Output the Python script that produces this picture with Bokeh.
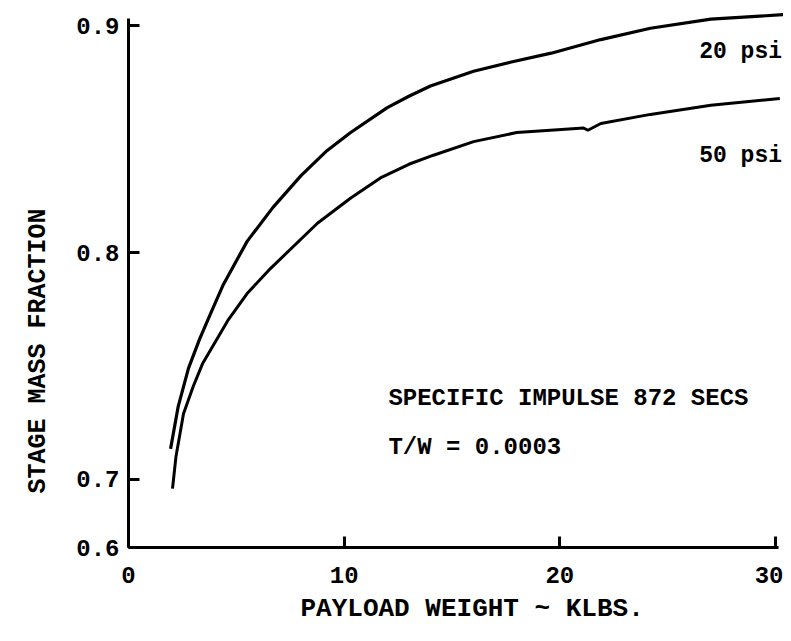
from bokeh.plotting import figure
from bokeh.models import FixedTicker, Title
from bokeh.core.properties import value
from bokeh.embed import file_html
from bokeh.resources import INLINE

# ---- data ----
x_20psi = [1.95, 2.3, 2.78, 3.3, 3.8, 4.4, 5.5, 6.7, 8.0, 9.2, 10.3, 12.0, 13.0, 14.0,
           16.0, 17.7, 19.6, 21.9, 24.2, 27.0, 30.4]
y_20psi = [0.7135, 0.732, 0.749, 0.762, 0.773, 0.786, 0.805, 0.820, 0.834, 0.845,
           0.853, 0.864, 0.869, 0.8735, 0.880, 0.884, 0.888, 0.894, 0.899, 0.903, 0.905]

x_50psi = [2.04, 2.2, 2.55, 3.0, 3.43, 4.6, 5.5, 6.58, 8.76, 10.29, 11.68, 13.0, 14.14,
           16.0, 18.0, 19.56, 21.1, 21.3, 21.9, 24.2, 27.0, 30.2]
y_50psi = [0.696, 0.71, 0.729, 0.741, 0.751, 0.770, 0.782, 0.793, 0.813, 0.824,
           0.833, 0.839, 0.843, 0.849, 0.853, 0.854, 0.855, 0.854, 0.857, 0.861, 0.865, 0.868]

x_ticks = [0, 10, 20, 30]
x_tick_labels = ["0", "10", "20", "30"]
y_tick_labels = ["0.6", "0.7", "0.8", "0.9"]
y_tick_pos = [0.67, 0.7, 0.8, 0.9]   # axis is broken below 0.7: "0.6" sits at the axis foot

series_labels = ["20 psi", "50 psi"]
note_lines = ["SPECIFIC IMPULSE 872 SECS", "T/W = 0.0003"]
x_title = "PAYLOAD WEIGHT ~ KLBS."
y_title = "STAGE MASS FRACTION"

FONT = "Liberation Mono"

p = figure(width=783, height=633, output_backend="svg", toolbar_location=None,
           x_range=(0, 30.37), y_range=(0.67, 0.9077),
           min_border_left=128, min_border_right=0, min_border_top=8,
           min_border_bottom=86)
p.background_fill_color = "white"
p.border_fill_color = "white"
p.outline_line_color = None
p.xgrid.visible = False
p.ygrid.visible = False

for ax in (p.xaxis[0], p.yaxis[0]):
    ax.axis_line_width = 3
    ax.axis_line_color = "black"
    ax.major_tick_line_width = 3
    ax.major_tick_line_color = "black"
    ax.major_tick_in = 11
    ax.major_tick_out = 0
    ax.minor_tick_line_color = None
    ax.major_label_text_font = FONT
    ax.major_label_text_font_style = "bold"
    ax.major_label_text_font_size = "24px"
    ax.major_label_text_color = "black"

p.xaxis[0].ticker = FixedTicker(ticks=x_ticks)
p.xaxis[0].major_label_overrides = {t: s for t, s in zip(x_ticks, x_tick_labels)}
p.xaxis[0].bounds = (0, 30.15)
p.xaxis[0].major_label_standoff = 19

p.yaxis[0].ticker = FixedTicker(ticks=y_tick_pos)
p.yaxis[0].major_label_overrides = {t: s for t, s in zip(y_tick_pos, y_tick_labels)}
p.yaxis[0].bounds = (0.67, 0.9035)
p.yaxis[0].major_label_standoff = 9

p.line(x_20psi, y_20psi, line_color="black", line_width=3.2)
p.line(x_50psi, y_50psi, line_color="black", line_width=3)

p.text(x=[30.3, 30.3], y=[0.8883, 0.8428], text=series_labels,
       text_font=value(FONT), text_font_style="bold", text_font_size="23px",
       text_align="right", text_baseline="middle", text_color="black")

p.text(x=[12.05, 12.05], y=[0.7355, 0.7139], text=note_lines,
       text_font=value(FONT), text_font_style="bold", text_font_size="24px",
       text_align="left", text_baseline="middle", text_color="black")

p.add_layout(Title(text=x_title, align="left", offset=172, standoff=12,
                   text_font=FONT, text_font_style="bold", text_font_size="26px",
                   text_color="black"), "below")
p.add_layout(Title(text=y_title, align="left", offset=54, standoff=41,
                   text_font=FONT, text_font_style="bold", text_font_size="25px",
                   text_color="black"), "left")

open("out.html", "w").write(file_html(p, INLINE))
